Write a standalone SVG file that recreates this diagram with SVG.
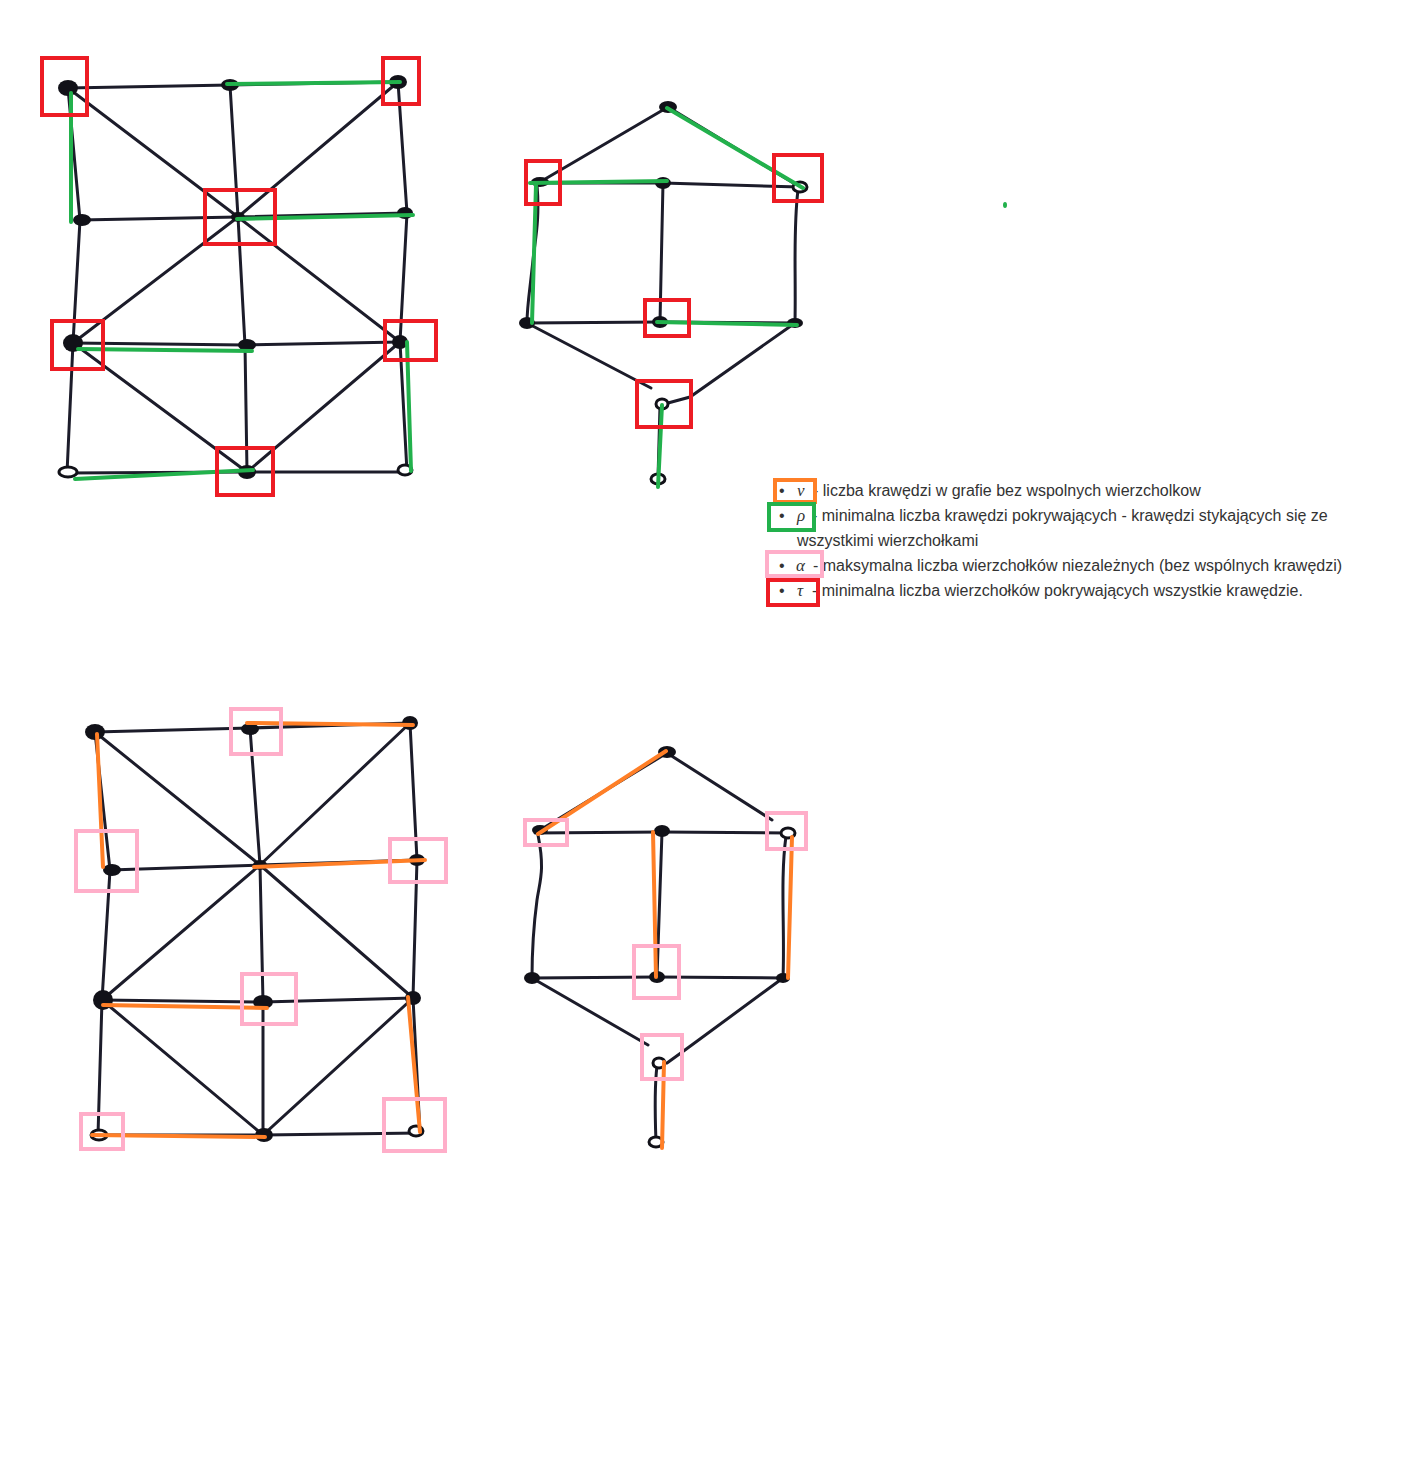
<svg xmlns="http://www.w3.org/2000/svg" width="1428" height="1476" viewBox="0 0 1428 1476">
<style>
.e{stroke:#1c1c2a;stroke-width:3;fill:none;stroke-linecap:round}
.n{fill:#111118}
.o{fill:#fff;stroke:#111118;stroke-width:3}
.g{stroke:#22b14c;stroke-width:4;fill:none;stroke-linecap:round}
.or{stroke:#ff7f27;stroke-width:4;fill:none;stroke-linecap:round}
.rb{stroke:#ed1c24;stroke-width:4;fill:none}
.pb{stroke:#ffaec9;stroke-width:4;fill:none}
.t{font-family:"Liberation Sans",Arial,sans-serif;font-size:16px;fill:#333}
.s{font-family:"Liberation Serif","Times New Roman",serif;font-size:17px;font-style:italic;fill:#333}
</style>
<rect width="1428" height="1476" fill="#fff"/>

<!-- Graph 1 (top-left) -->
<g id="graph1">
<g id="g1-edges">
<path class="e" d="M68 88 L230 85 L398 82"/>
<path class="e" d="M68 88 L80 220 L73 343 L67 473"/>
<path class="e" d="M398 82 L407 213 L400 342 L407 472"/>
<path class="e" d="M230 85 L238 217 L245 345 L247 472"/>
<path class="e" d="M80 220 L238 217 L407 213"/>
<path class="e" d="M73 343 L245 345 L400 342"/>
<path class="e" d="M67 473 L247 472 L407 472"/>
<path class="e" d="M68 88 L238 217 L400 342"/>
<path class="e" d="M398 82 L238 217 L73 343"/>
<path class="e" d="M73 343 L247 472 L400 342"/>
</g>
<g id="g1-TL"><ellipse class="n" cx="68" cy="88" rx="10" ry="8"/></g>
<g id="g1-TM"><ellipse class="n" cx="230" cy="85" rx="9" ry="6"/></g>
<g id="g1-TR"><ellipse class="n" cx="398" cy="82" rx="9" ry="7"/></g>
<g id="g1-ML"><ellipse class="n" cx="82" cy="220" rx="9" ry="6"/></g>
<g id="g1-C"><ellipse class="n" cx="238" cy="217" rx="7" ry="5"/></g>
<g id="g1-MR"><ellipse class="n" cx="405" cy="213" rx="8" ry="6"/></g>
<g id="g1-L3"><ellipse class="n" cx="73" cy="343" rx="10" ry="9"/></g>
<g id="g1-M3"><ellipse class="n" cx="247" cy="345" rx="9" ry="6"/></g>
<g id="g1-R3"><ellipse class="n" cx="400" cy="342" rx="8" ry="7"/></g>
<g id="g1-BL"><ellipse class="o" cx="68" cy="472" rx="9" ry="5"/></g>
<g id="g1-BM"><ellipse class="n" cx="247" cy="472" rx="9" ry="7"/></g>
<g id="g1-BR"><ellipse class="o" cx="405" cy="470" rx="7" ry="5"/></g>
</g>
<g id="g1-highlight">
<path class="g" d="M227 84 L400 82"/>
<path class="g" d="M71 93 L71 222"/>
<path class="g" d="M237 219 L413 215"/>
<path class="g" d="M78 349 L252 351"/>
<path class="g" d="M407 342 L411 471"/>
<path class="g" d="M75 479 L253 470"/>
<rect class="rb" x="42" y="58" width="45" height="57"/>
<rect class="rb" x="383" y="58" width="36" height="46"/>
<rect class="rb" x="205" y="190" width="70" height="54"/>
<rect class="rb" x="52" y="321" width="51" height="48"/>
<rect class="rb" x="385" y="321" width="51" height="39"/>
<rect class="rb" x="217" y="448" width="56" height="47"/>
</g>

<!-- Graph 2 (top-right) -->
<g id="graph2">
<g id="g2-edges">
<path class="e" d="M668 107 L540 182"/>
<path class="e" d="M668 107 L800 187"/>
<path class="e" d="M533 183 L663 183 L800 187"/>
<path class="e" d="M537 185 C540 220 535 240 533 260 C530 290 527 305 527 323"/>
<path class="e" d="M798 190 C793 230 796 270 795 323"/>
<path class="e" d="M663 183 L660 322"/>
<path class="e" d="M527 323 L660 322 L795 323"/>
<path class="e" d="M527 323 L651 388"/>
<path class="e" d="M795 323 L690 397 L668 403"/>
<path class="e" d="M660 406 L658 478"/>
</g>
<g id="g2-T"><ellipse class="n" cx="668" cy="107" rx="9" ry="6"/></g>
<g id="g2-L1"><ellipse class="n" cx="540" cy="182" rx="9" ry="5"/></g>
<g id="g2-C1"><ellipse class="n" cx="663" cy="183" rx="8" ry="6"/></g>
<g id="g2-R1"><ellipse class="o" cx="800" cy="187" rx="7" ry="5"/></g>
<g id="g2-L2"><ellipse class="n" cx="527" cy="323" rx="8" ry="6"/></g>
<g id="g2-C2"><ellipse class="n" cx="660" cy="322" rx="8" ry="6"/></g>
<g id="g2-R2"><ellipse class="n" cx="795" cy="323" rx="8" ry="5"/></g>
<g id="g2-B"><ellipse class="o" cx="662" cy="404" rx="6" ry="5"/></g>
<g id="g2-BB"><ellipse class="o" cx="658" cy="479" rx="7" ry="5"/></g>
</g>
<g id="g2-highlight">
<path class="g" d="M667 108 L803 188"/>
<path class="g" d="M530 183 L667 181"/>
<path class="g" d="M536 185 L532 323"/>
<path class="g" d="M657 322 L797 325"/>
<path class="g" d="M662 405 L658 487"/>
<rect class="rb" x="526" y="161" width="34" height="43"/>
<rect class="rb" x="774" y="155" width="48" height="46"/>
<rect class="rb" x="645" y="300" width="44" height="36"/>
<rect class="rb" x="637" y="381" width="54" height="46"/>
<ellipse cx="1005" cy="205" rx="2" ry="3" fill="#22b14c"/>
</g>

<!-- Legend -->
<g id="legend">
<text class="t" x="779" y="496">•</text>
<text class="s" x="797" y="496">ν</text>
<text class="t" x="813" y="496">- liczba krawędzi w grafie bez wspolnych wierzcholkow</text>
<text class="t" x="779" y="521">•</text>
<text class="s" x="797" y="521">ρ</text>
<text class="t" x="812" y="521">- minimalna liczba krawędzi pokrywających - krawędzi stykających się ze</text>
<text class="t" x="797" y="546">wszystkimi wierzchołkami</text>
<text class="t" x="779" y="571">•</text>
<text class="s" x="796" y="571">α</text>
<text class="t" x="813" y="571">- maksymalna liczba wierzchołków niezależnych (bez wspólnych krawędzi)</text>
<text class="t" x="779" y="596">•</text>
<text class="s" x="797" y="596">τ</text>
<text class="t" x="812" y="596">- minimalna liczba wierzchołków pokrywających wszystkie krawędzie.</text>
<rect x="775" y="480" width="40" height="22" fill="none" stroke="#ff7f27" stroke-width="4"/>
<rect x="769" y="504" width="45" height="26" fill="none" stroke="#22b14c" stroke-width="4"/>
<rect x="767" y="552" width="55" height="24" fill="none" stroke="#ffaec9" stroke-width="4"/>
<rect x="768" y="580" width="50" height="25" fill="none" stroke="#ed1c24" stroke-width="4"/>
</g>

<!-- Graph 3 (bottom-left) -->
<g id="graph3">
<g id="g3-edges">
<path class="e" d="M95 732 L250 728 L410 723"/>
<path class="e" d="M95 732 L110 870 L102 1000 L98 1135"/>
<path class="e" d="M410 723 L417 860 L413 998 L420 1133"/>
<path class="e" d="M250 728 L260 865 L263 1002 L263 1135"/>
<path class="e" d="M110 870 L260 865 L417 860"/>
<path class="e" d="M102 1000 L263 1002 L413 998"/>
<path class="e" d="M98 1135 L263 1135 L420 1133"/>
<path class="e" d="M95 732 L260 865 L413 998"/>
<path class="e" d="M410 723 L260 865 L102 1000"/>
<path class="e" d="M102 1000 L263 1135 L413 998"/>
</g>
<g id="g3-TL"><ellipse class="n" cx="95" cy="732" rx="10" ry="8"/></g>
<g id="g3-TM"><ellipse class="n" cx="250" cy="729" rx="9" ry="6"/></g>
<g id="g3-TR"><ellipse class="n" cx="410" cy="723" rx="8" ry="7"/></g>
<g id="g3-ML"><ellipse class="n" cx="112" cy="870" rx="9" ry="6"/></g>
<g id="g3-C"><ellipse class="n" cx="260" cy="865" rx="7" ry="5"/></g>
<g id="g3-MR"><ellipse class="n" cx="417" cy="860" rx="8" ry="6"/></g>
<g id="g3-L3"><ellipse class="n" cx="103" cy="1000" rx="10" ry="10"/></g>
<g id="g3-M3"><ellipse class="n" cx="263" cy="1002" rx="10" ry="7"/></g>
<g id="g3-R3"><ellipse class="n" cx="413" cy="998" rx="8" ry="7"/></g>
<g id="g3-BL"><ellipse class="o" cx="99" cy="1135" rx="8" ry="5"/></g>
<g id="g3-BM"><ellipse class="n" cx="264" cy="1135" rx="9" ry="7"/></g>
<g id="g3-BR"><ellipse class="o" cx="416" cy="1131" rx="7" ry="5"/></g>
</g>
<g id="g3-highlight">
<path class="or" d="M247 723 L413 725"/>
<path class="or" d="M97 734 L103 867"/>
<path class="or" d="M254 867 L425 860"/>
<path class="or" d="M103 1005 L267 1008"/>
<path class="or" d="M408 997 L420 1132"/>
<path class="or" d="M92 1135 L265 1137"/>
<rect class="pb" x="231" y="709" width="50" height="45"/>
<rect class="pb" x="76" y="831" width="61" height="60"/>
<rect class="pb" x="390" y="839" width="56" height="43"/>
<rect class="pb" x="242" y="974" width="54" height="50"/>
<rect class="pb" x="81" y="1114" width="42" height="35"/>
<rect class="pb" x="384" y="1099" width="61" height="52"/>
</g>

<!-- Graph 4 (bottom-right) -->
<g id="graph4">
<g id="g4-edges">
<path class="e" d="M667 753 L540 830"/>
<path class="e" d="M667 753 L772 820"/>
<path class="e" d="M535 833 L662 832 L788 833"/>
<path class="e" d="M538 835 C545 870 540 880 537 900 C533 930 532 950 532 978"/>
<path class="e" d="M786 836 C780 880 785 930 783 978"/>
<path class="e" d="M662 832 L657 977"/>
<path class="e" d="M532 978 L657 977 L783 978"/>
<path class="e" d="M532 978 L648 1045"/>
<path class="e" d="M783 978 L685 1050 L667 1063"/>
<path class="e" d="M657 1066 C654 1090 655 1115 656 1142"/>
</g>
<g id="g4-T"><ellipse class="n" cx="667" cy="752" rx="9" ry="6"/></g>
<g id="g4-L1"><ellipse class="n" cx="540" cy="830" rx="8" ry="5"/></g>
<g id="g4-C1"><ellipse class="n" cx="662" cy="831" rx="8" ry="6"/></g>
<g id="g4-R1"><ellipse class="o" cx="788" cy="833" rx="7" ry="5"/></g>
<g id="g4-L2"><ellipse class="n" cx="532" cy="978" rx="8" ry="6"/></g>
<g id="g4-C2"><ellipse class="n" cx="657" cy="977" rx="8" ry="6"/></g>
<g id="g4-R2"><ellipse class="n" cx="783" cy="978" rx="7" ry="5"/></g>
<g id="g4-B"><ellipse class="o" cx="659" cy="1063" rx="6" ry="5"/></g>
<g id="g4-BB"><ellipse class="o" cx="656" cy="1142" rx="7" ry="5"/></g>
</g>
<g id="g4-highlight">
<path class="or" d="M666 751 L538 834"/>
<path class="or" d="M653 832 L656 977"/>
<path class="or" d="M792 837 L788 978"/>
<path class="or" d="M664 1062 L662 1148"/>
<rect class="pb" x="525" y="820" width="42" height="25"/>
<rect class="pb" x="767" y="813" width="39" height="36"/>
<rect class="pb" x="634" y="946" width="45" height="52"/>
<rect class="pb" x="642" y="1035" width="40" height="44"/>
</g>
</svg>
